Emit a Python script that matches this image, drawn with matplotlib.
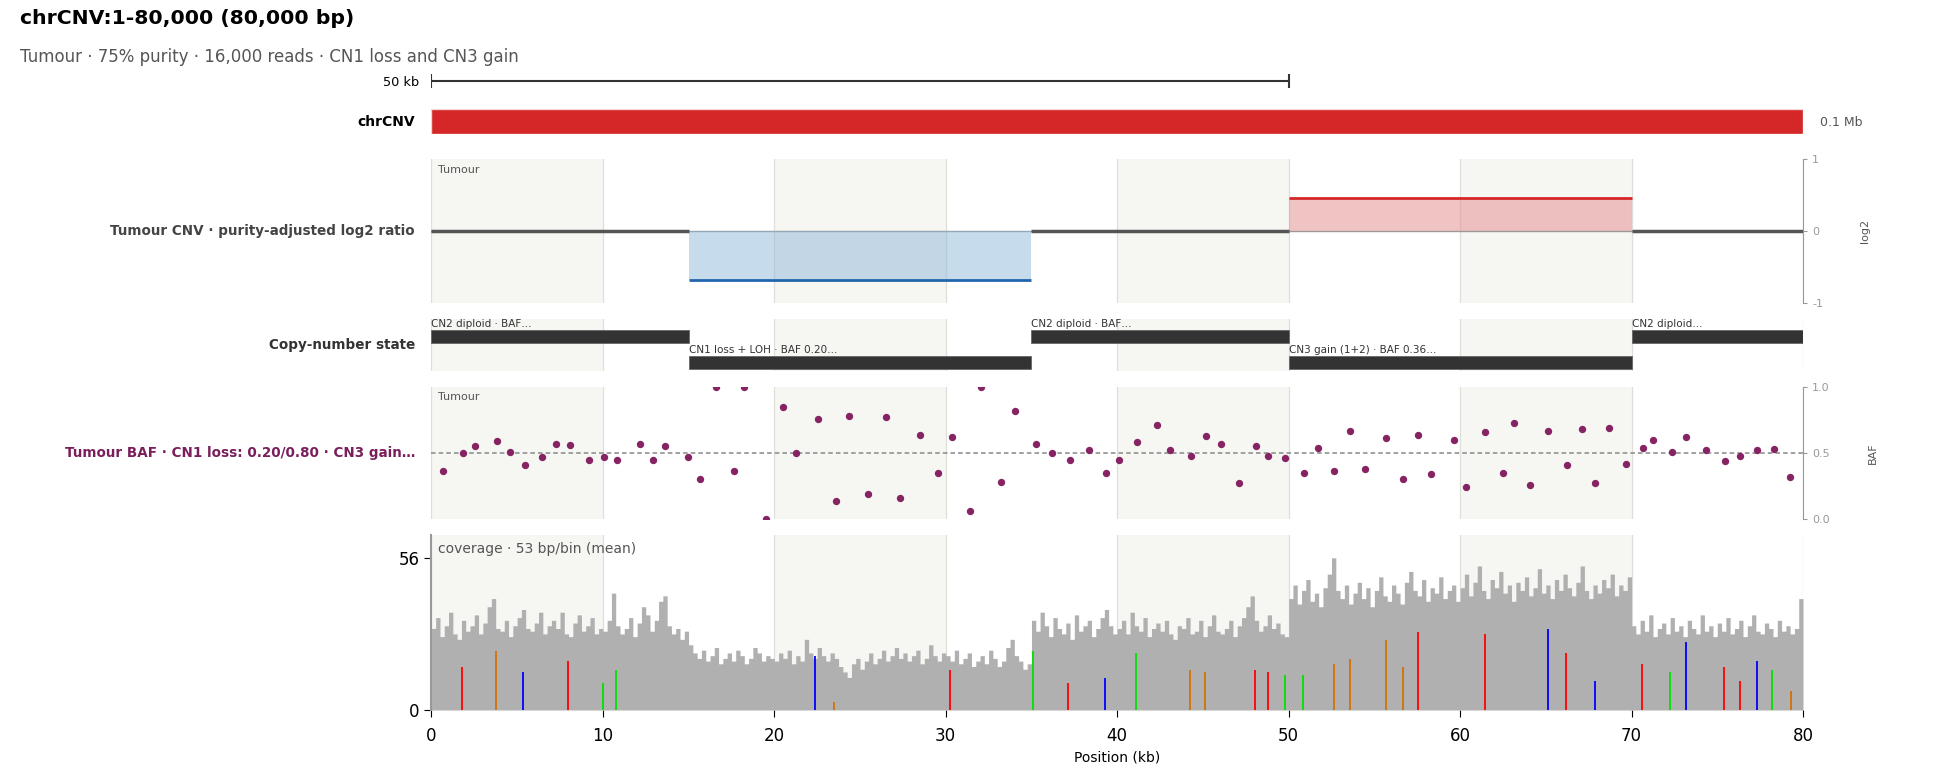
import numpy as np
import matplotlib
matplotlib.use("Agg")
import matplotlib.pyplot as plt

# ---- data ----
chrom_len_kb = 80
seg_start = [0, 15, 35, 50, 70]
seg_end = [15, 35, 50, 70, 80]
seg_log2 = [0.0, -0.678, 0.0, 0.459, 0.0]
seg_row = [1, 0, 1, 0, 1]
seg_label = ["CN2 diploid · BAF…", "CN1 loss + LOH · BAF 0.20…", "CN2 diploid · BAF…",
             "CN3 gain (1+2) · BAF 0.36…", "CN2 diploid…"]

baf_pos = [0.66, 1.84, 2.54, 3.82, 4.58, 5.44, 6.45, 7.26, 8.10, 9.19, 10.08, 10.83, 12.17, 12.92,
           13.63, 14.98, 15.69, 16.6, 17.67, 18.24, 19.52, 20.49, 21.29, 22.52, 23.57, 24.37, 25.44,
           26.49, 27.35, 28.47, 29.54, 30.35, 31.39, 32.05, 33.22, 34.03, 35.26, 36.2, 37.24, 38.36,
           39.35, 40.12, 41.17, 42.32, 43.09, 44.31, 45.2, 46.07, 47.12, 48.12, 48.82, 49.81, 50.9,
           51.73, 52.65, 53.58, 54.48, 55.69, 56.69, 57.56, 58.32, 59.67, 60.37, 61.46, 62.51, 63.16,
           64.05, 65.14, 66.26, 67.12, 67.89, 68.66, 69.68, 70.64, 71.28, 72.34, 73.2, 74.35, 75.47,
           76.34, 77.33, 78.29, 79.25]
baf_val = [0.36, 0.50, 0.55, 0.59, 0.51, 0.41, 0.47, 0.57, 0.56, 0.45, 0.47, 0.45, 0.57, 0.45,
           0.55, 0.47, 0.30, 1.0, 0.36, 1.0, 0.0, 0.85, 0.50, 0.76, 0.14, 0.78, 0.19,
           0.77, 0.16, 0.64, 0.35, 0.62, 0.06, 1.0, 0.28, 0.82, 0.57, 0.50, 0.45, 0.52,
           0.35, 0.45, 0.58, 0.71, 0.52, 0.475, 0.63, 0.57, 0.27, 0.55, 0.475, 0.46, 0.35,
           0.535, 0.36, 0.67, 0.38, 0.61, 0.30, 0.64, 0.34, 0.60, 0.24, 0.66, 0.35, 0.725,
           0.26, 0.67, 0.41, 0.68, 0.27, 0.69, 0.42, 0.54, 0.60, 0.51, 0.62, 0.52, 0.44,
           0.475, 0.52, 0.53, 0.32]

# mean depth per 250 bp, one line = 5 kb
cov_bin_kb = 0.25
cov_depth = [
    30, 34, 27, 31, 36, 28, 26, 33, 29, 31, 35, 28, 32, 38, 41, 30, 29, 33, 27, 31,
    34, 37, 30, 29, 32, 36, 28, 31, 33, 30, 36, 28, 27, 32, 35, 29, 31, 34, 28, 30,
    29, 33, 43, 31, 28, 30, 34, 27, 32, 38, 35, 29, 33, 40, 42, 31, 28, 30, 26, 29,
    24, 21, 19, 22, 18, 20, 23, 17, 19, 21, 18, 22, 20, 17, 19, 23, 21, 18, 20, 19,
    18, 21, 19, 22, 17, 20, 18, 26, 21, 19, 23, 20, 18, 21, 19, 16, 14, 12, 17, 19,
    15, 18, 21, 17, 19, 22, 18, 20, 23, 19, 21, 18, 20, 22, 17, 19, 24, 20, 18, 21,
    20, 18, 22, 17, 19, 21, 16, 18, 20, 17, 22, 19, 16, 18, 23, 26, 20, 18, 15, 17,
    33, 29, 36, 31, 27, 34, 30, 28, 32, 26, 35, 29, 31, 33, 27, 30, 34, 37, 31, 28,
    30, 33, 28, 36, 31, 29, 34, 27, 30, 32, 29, 33, 28, 26, 31, 30, 34, 28, 29, 33,
    27, 31, 35, 29, 28, 30, 33, 27, 31, 34, 38, 42, 33, 29, 31, 35, 30, 32, 28, 27,
    41, 46, 39, 44, 48, 40, 43, 38, 45, 50, 56, 44, 41, 46, 39, 43, 47, 41, 45, 38,
    44, 49, 42, 40, 46, 43, 39, 47, 51, 44, 42, 48, 40, 45, 43, 49, 41, 44, 46, 40,
    45, 50, 42, 47, 53, 44, 41, 48, 45, 51, 43, 46, 40, 47, 44, 49, 42, 45, 52, 43,
    46, 41, 48, 44, 50, 45, 42, 47, 53, 44, 41, 46, 43, 48, 45, 50, 42, 46, 44, 49,
    31, 28, 33, 29, 35, 27, 30, 32, 28, 34, 29, 31, 27, 33, 30, 28, 35, 29, 31, 27,
    32, 29, 34, 28, 30, 33, 27, 31, 35, 29, 28, 32, 30, 27, 33, 29, 31, 28, 30, 41,
]
cov_tick_max = 56

mm_pos = [1.81, 3.79, 5.35, 7.98, 10.02, 10.79, 22.4, 23.5, 30.27, 35.1, 37.15, 39.31, 41.1,
          44.27, 45.15, 48.06, 48.81, 49.81, 50.85, 52.67, 53.6, 55.7, 56.65, 57.56, 61.48,
          65.1, 66.15, 67.85, 70.6, 72.25, 73.18, 75.41, 76.35, 77.34, 78.22, 79.28]
mm_depth = [15.9, 21.8, 14.0, 18.1, 9.8, 14.8, 19.9, 3.0, 14.8, 21.8, 10.0, 11.8, 21.0,
            14.8, 14.0, 14.8, 14.0, 12.9, 12.9, 17.0, 18.8, 25.8, 15.9, 28.8, 28.1,
            29.9, 21.0, 10.7, 17.0, 14.0, 25.1, 15.8, 10.7, 18.1, 14.7, 7.0]
mm_base = ["T", "G", "C", "T", "A", "A", "C", "G", "T", "A", "T", "C", "A",
           "G", "G", "T", "T", "A", "A", "G", "G", "G", "G", "T", "T",
           "C", "T", "C", "T", "A", "C", "T", "T", "C", "A", "G"]
base_colors = {"A": "#00e000", "C": "#0000ff", "G": "#d17105", "T": "#ff0000"}

# ---- layout (pixels) ----
W, H = 1960, 772
X0, X1 = 431.4, 1803.0
LABEL_X = 415

fig = plt.figure(figsize=(W / 100, H / 100), dpi=100)


def add_track(y0, y1):
    ax = fig.add_axes([X0 / W, 1 - y1 / H, (X1 - X0) / W, (y1 - y0) / H])
    ax.set_xlim(0, chrom_len_kb)
    return ax


def bands(ax):
    for s in range(0, chrom_len_kb, 20):
        ax.axvspan(s, s + 10, color="#f6f6f3", lw=0, zorder=0)
    for x in range(0, chrom_len_kb + 1, 10):
        ax.axvline(x, color="#dfdfda", lw=0.9, zorder=0.5)


def clean(ax):
    for sp in ax.spines.values():
        sp.set_visible(False)
    ax.set_xticks([])
    ax.set_yticks([])


def left_label(y, text, color="#444444"):
    fig.text(LABEL_X / W, 1 - y / H, text, ha="right", va="center",
             fontsize=9.75, fontweight="bold", color=color)


fig.text(20 / W, 1 - 18 / H, "chrCNV:1-80,000 (80,000 bp)", fontsize=14.7, fontweight="bold",
         va="center", ha="left")
fig.text(20 / W, 1 - 57 / H, "Tumour · 75% purity · 16,000 reads · CN1 loss and CN3 gain",
         fontsize=12, color="#555555", va="center", ha="left")

# scale bar
ax_s = add_track(72, 90)
clean(ax_s)
ax_s.set_ylim(0, 1)
ax_s.hlines(0.5, 0, 50, color="#333333", lw=1.5)
ax_s.vlines([0, 50], 0.1, 0.9, color="#333333", lw=1.5)
fig.text(419 / W, 1 - 82 / H, "50 kb", ha="right", va="center", fontsize=9.3)

# ideogram
ax_i = add_track(109, 134)
clean(ax_i)
ax_i.set_ylim(0, 1)
ax_i.barh(0.5, chrom_len_kb, left=0, height=1.0, color="#d62728", edgecolor="#f4d0d0", lw=1)
fig.text(LABEL_X / W, 1 - 122 / H, "chrCNV", ha="right", va="center", fontsize=10,
         fontweight="bold")
fig.text(1820 / W, 1 - 122 / H, "0.1 Mb", ha="left", va="center", fontsize=9, color="#555555")

# CNV log2 track
ax_c = add_track(159, 303)
bands(ax_c)
ax_c.set_ylim(-1, 1)
ax_c.axhline(0, color="#999999", lw=1, zorder=1)
for s, e, v in zip(seg_start, seg_end, seg_log2):
    if v < 0:
        ax_c.fill_between([s, e], 0, v, color="#8fb8d9", alpha=0.5, lw=0, zorder=2)
        ax_c.hlines(v, s, e, color="#2166ac", lw=2, zorder=3)
    elif v > 0:
        ax_c.fill_between([s, e], 0, v, color="#e58a8a", alpha=0.5, lw=0, zorder=2)
        ax_c.hlines(v, s, e, color="#d62728", lw=2, zorder=3)
    else:
        ax_c.hlines(v, s, e, color="#555555", lw=2.5, zorder=3)
for sp in ["top", "left", "bottom"]:
    ax_c.spines[sp].set_visible(False)
ax_c.spines["right"].set_color("#999999")
ax_c.spines["right"].set_bounds(-1, 1)
ax_c.set_xticks([])
ax_c.yaxis.tick_right()
ax_c.set_yticks([-1, 0, 1])
ax_c.set_yticklabels(["-1", "0", "1"])
ax_c.tick_params(axis="y", colors="#999999", labelsize=8, length=3)
ax_c.set_ylabel("log2", fontsize=8, color="#555555")
ax_c.yaxis.set_label_position("right")
ax_c.yaxis.set_label_coords(1.0415, 0.5)
ax_c.text(0.005, 0.96, "Tumour", transform=ax_c.transAxes, fontsize=8, color="#555555",
          va="top", ha="left")
left_label(231, "Tumour CNV · purity-adjusted log2 ratio")

# copy-number state track
ax_n = add_track(319, 371)
bands(ax_n)
clean(ax_n)
ax_n.set_ylim(0, 1)
row_y = {1: 0.54, 0: 0.04}
for s, e, r, lab in zip(seg_start, seg_end, seg_row, seg_label):
    ax_n.barh(row_y[r], e - s, left=s, height=0.25, align="edge", color="#333333",
              edgecolor="#666666", lw=0.6, zorder=3)
    ax_n.text(s, row_y[r] + 0.27, lab, fontsize=7.5, color="#333333", ha="left",
              va="bottom", zorder=4)
left_label(345, "Copy-number state", color="#333333")

# BAF track
ax_b = add_track(387, 519)
bands(ax_b)
ax_b.set_ylim(0, 1)
ax_b.axhline(0.5, color="#888888", lw=1.1, ls=(0, (3, 2)), zorder=1)
ax_b.scatter(baf_pos, baf_val, s=28, color="#862362", lw=0, zorder=3)
for sp in ["top", "left", "bottom"]:
    ax_b.spines[sp].set_visible(False)
ax_b.spines["right"].set_color("#999999")
ax_b.spines["right"].set_bounds(0, 1)
ax_b.set_xticks([])
ax_b.yaxis.tick_right()
ax_b.set_yticks([0, 0.5, 1])
ax_b.set_yticklabels(["0.0", "0.5", "1.0"])
ax_b.tick_params(axis="y", colors="#999999", labelsize=8, length=3)
ax_b.set_ylabel("BAF", fontsize=8, color="#555555")
ax_b.yaxis.set_label_position("right")
ax_b.yaxis.set_label_coords(1.047, 0.5)
ax_b.text(0.005, 0.96, "Tumour", transform=ax_b.transAxes, fontsize=8, color="#555555",
          va="top", ha="left")
left_label(453, "Tumour BAF · CN1 loss: 0.20/0.80 · CN3 gain…", color="#7a1f5c")

# coverage track
ax_v = add_track(535, 710)
bands(ax_v)
edges = np.arange(len(cov_depth) + 1) * cov_bin_kb
ax_v.fill_between(edges, np.r_[cov_depth, cov_depth[-1]], step="post", color="#b0b0b0",
                  lw=0, zorder=2)
ax_v.vlines(mm_pos, 0, mm_depth, colors=[base_colors[b] for b in mm_base], lw=1.3, zorder=3)
ax_v.set_ylim(0, cov_tick_max * 1.15)
ax_v.set_yticks([0, cov_tick_max])
ax_v.set_xticks(range(0, chrom_len_kb + 1, 10))
ax_v.tick_params(labelsize=12, length=5)
ax_v.tick_params(axis="x", pad=7)
for sp in ["top", "right", "bottom"]:
    ax_v.spines[sp].set_visible(False)
ax_v.spines["left"].set_color("#999999")
ax_v.spines["left"].set_linewidth(1.5)
ax_v.set_xlabel("Position (kb)", fontsize=10)
ax_v.text(0.005, 0.96, "coverage · 53 bp/bin (mean)", transform=ax_v.transAxes, fontsize=10,
          color="#555555", va="top", ha="left")

fig.savefig("out.png", dpi=100)
